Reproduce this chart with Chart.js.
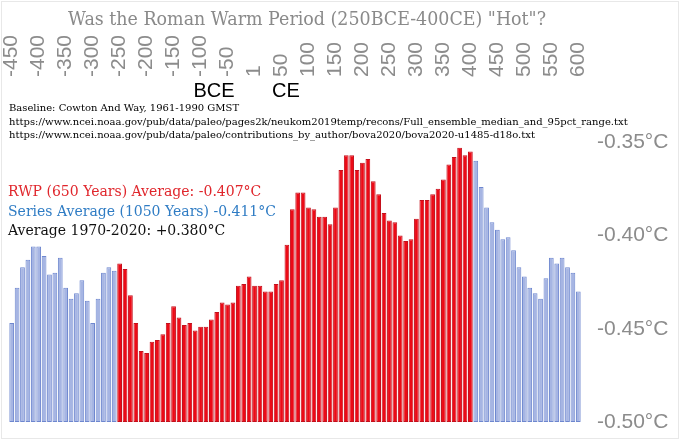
<!DOCTYPE html>
<html>
<head>
<meta charset="utf-8">
<script src="https://cdn.jsdelivr.net/npm/chart.js@4.4.0/dist/chart.umd.min.js"></script>
<style>
  html, body { margin: 0; padding: 0; background: #fff; }
  #wrap { width: 680px; height: 440px; }
</style>
</head>
<body>
<div id="wrap"><canvas id="rwpChart"></canvas></div>
<script>
// decade bins, 450 BCE .. 600 CE (year 0 is shown as 1)
const years = [
  -450,-440,-430,-420,-410,-400,-390,-380,-370,-360,
  -350,-340,-330,-320,-310,-300,-290,-280,-270,-260,
  -250,-240,-230,-220,-210,-200,-190,-180,-170,-160,
  -150,-140,-130,-120,-110,-100,-90,-80,-70,-60,
  -50,-40,-30,-20,-10,1,10,20,30,40,
  50,60,70,80,90,100,110,120,130,140,
  150,160,170,180,190,200,210,220,230,240,
  250,260,270,280,290,300,310,320,330,340,
  350,360,370,380,390,400,410,420,430,440,
  450,460,470,480,490,500,510,520,530,540,
  550,560,570,580,590,600
];

// anomaly in °C
const temps = [
  -0.447,-0.428,-0.417,-0.413,-0.406,-0.406,-0.411,-0.421,-0.420,-0.412,
  -0.428,-0.434,-0.431,-0.424,-0.435,-0.447,-0.434,-0.420,-0.417,-0.419,
  -0.415,-0.418,-0.432,-0.447,-0.462,-0.463,-0.457,-0.456,-0.453,-0.447,
  -0.438,-0.444,-0.448,-0.447,-0.451,-0.449,-0.449,-0.445,-0.441,-0.436,
  -0.437,-0.436,-0.427,-0.426,-0.422,-0.427,-0.427,-0.430,-0.430,-0.426,
  -0.424,-0.405,-0.386,-0.377,-0.377,-0.385,-0.386,-0.390,-0.390,-0.394,
  -0.385,-0.365,-0.357,-0.357,-0.365,-0.361,-0.359,-0.371,-0.378,-0.388,
  -0.392,-0.393,-0.400,-0.403,-0.402,-0.391,-0.381,-0.381,-0.378,-0.375,
  -0.370,-0.362,-0.358,-0.353,-0.357,-0.355,-0.360,-0.374,-0.385,-0.393,
  -0.397,-0.402,-0.401,-0.408,-0.417,-0.422,-0.428,-0.431,-0.434,-0.423,
  -0.412,-0.415,-0.412,-0.417,-0.420,-0.430
];

const yTicks = [-0.50, -0.45, -0.40, -0.35];
const yMin = -0.50;
const yMax = -0.3167;
const rwpStart = -250, rwpEnd = 400;

const titleText = 'Was the Roman Warm Period (250BCE-400CE) "Hot"?';
const sourceLines = [
  'Baseline: Cowton And Way, 1961-1990 GMST',
  'https://www.ncei.noaa.gov/pub/data/paleo/pages2k/neukom2019temp/recons/Full_ensemble_median_and_95pct_range.txt',
  'https://www.ncei.noaa.gov/pub/data/paleo/contributions_by_author/bova2020/bova2020-u1485-d18o.txt'
];
const avgLines = [
  { text: 'RWP (650 Years) Average: -0.407°C', color: '#e0262c' },
  { text: 'Series Average (1050 Years) -0.411°C', color: '#2f7cc4' },
  { text: 'Average 1970-2020: +0.380°C', color: '#111111' }
];

const inRwp = (i) => years[i] >= rwpStart && years[i] <= rwpEnd;

// background, frame and all the annotation text
const notes = {
  id: 'notes',
  beforeDraw(chart) {
    const c = chart.ctx;
    c.save();
    c.fillStyle = '#ffffff';
    c.fillRect(0, 0, chart.width, chart.height);
    c.strokeStyle = '#e8e8e8';
    c.lineWidth = 1;
    c.strokeRect(1.5, 1.5, chart.width - 3, chart.height - 3);
    c.restore();
  },
  afterDraw(chart) {
    const c = chart.ctx;
    c.save();
    c.textAlign = 'left';
    c.textBaseline = 'alphabetic';

    c.fillStyle = '#8a8a8a';
    c.font = '18px "DejaVu Serif"';
    c.fillText(titleText, 68, 25, 478);

    c.fillStyle = '#000';
    c.font = '20px "Liberation Sans"';
    c.textAlign = 'center';
    c.fillText('BCE', 214, 97);
    c.fillText('CE', 286, 97);

    c.textAlign = 'left';
    c.font = '10px "DejaVu Serif"';
    sourceLines.forEach((t, i) => c.fillText(t, 9, 111 + i * 13.5, 622));

    c.font = '14px "DejaVu Serif"';
    avgLines.forEach((l, i) => {
      c.fillStyle = l.color;
      c.fillText(l.text, 8, 196 + i * 19.5);
    });
    c.restore();
  }
};

const ctx = document.getElementById('rwpChart').getContext('2d');
const rwpChart = new Chart(ctx, {
  type: 'bar',
  data: {
    labels: years,
    datasets: [{
      data: temps,
      base: yMin,
      backgroundColor: (c) => inRwp(c.dataIndex) ? '#ec0a16' : '#a6b5e3',
      borderColor: (c) => inRwp(c.dataIndex) ? '#c4101c' : '#6e87cf',
      borderWidth: 1,
      borderSkipped: false,
      categoryPercentage: 1.0,
      barPercentage: 0.88
    }]
  },
  options: {
    responsive: true,
    maintainAspectRatio: false,
    animation: false,
    layout: { padding: { top: 30, left: 9, right: 0, bottom: 18 } },
    plugins: {
      legend: { display: false },
      tooltip: { enabled: false }
    },
    scales: {
      x: {
        position: 'top',
        grid: { display: false, drawTicks: false },
        border: { display: false },
        ticks: {
          autoSkip: false,
          minRotation: 90,
          maxRotation: 90,
          padding: 3,
          labelOffset: 25,
          color: '#8c8c8c',
          font: { family: 'Liberation Sans', size: 21 },
          callback: (v, i) => (years[i] % 50 === 0 || years[i] === 1) ? String(years[i]) : ''
        },
        afterFit: (s) => { s.height = 50; s.paddingLeft = 0; s.paddingRight = 0; }
      },
      y: {
        position: 'right',
        min: yMin,
        max: yMax,
        grid: { display: false, drawTicks: false },
        border: { display: false },
        afterBuildTicks: (s) => { s.ticks = yTicks.map(v => ({ value: v })); },
        ticks: {
          padding: 16,
          color: '#8c8c8c',
          font: { family: 'Liberation Sans', size: 21 },
          callback: (v) => v.toFixed(2) + '°C'
        },
        afterFit: (s) => { s.width = 99; s.paddingTop = 0; s.paddingBottom = 0; }
      }
    }
  },
  plugins: [notes]
});
</script>
</body>
</html>
